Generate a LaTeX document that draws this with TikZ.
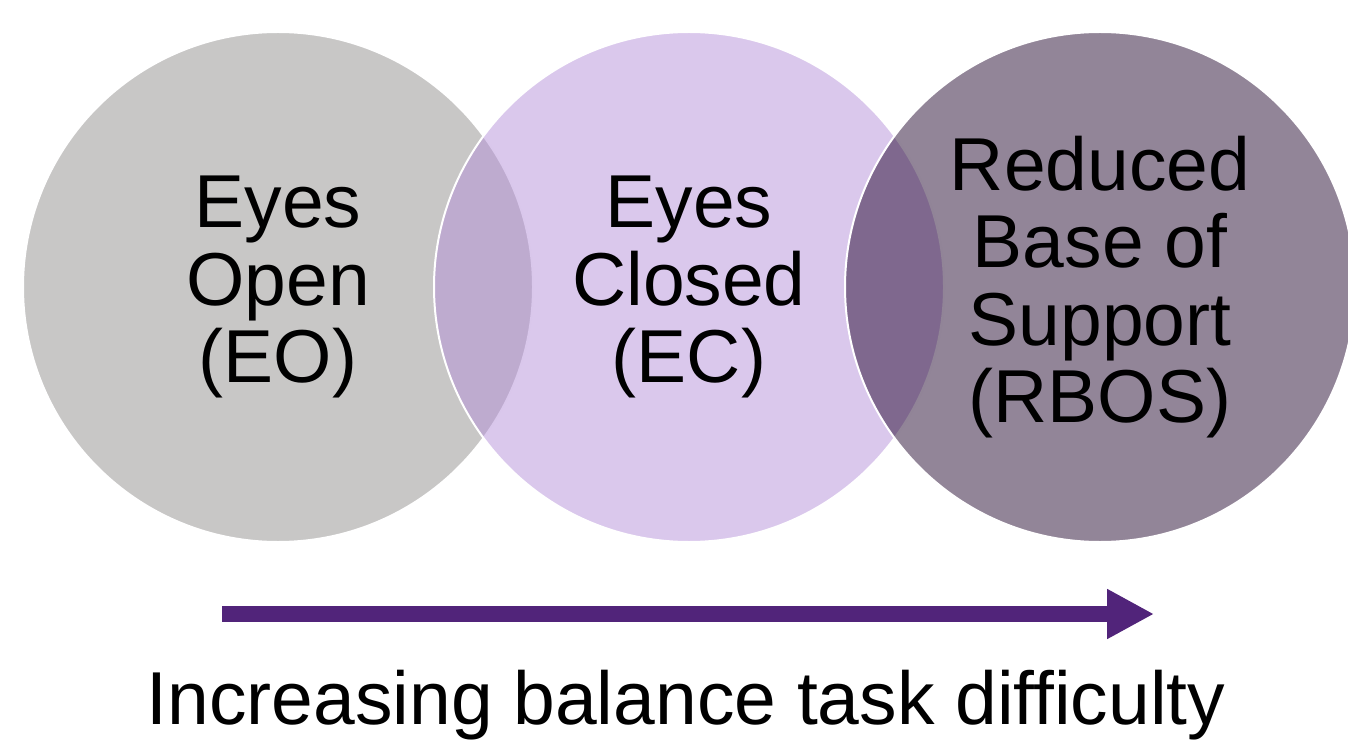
\documentclass[tikz,border=0pt]{standalone}
\usepackage{fontspec}
\setmainfont{Liberation Sans}
\usetikzlibrary{arrows.meta}
\definecolor{eogray}{HTML}{C8C7C6}
\definecolor{eclilac}{HTML}{B591D9}
\definecolor{rbosplum}{HTML}{250B31}
\definecolor{arrowpurple}{HTML}{51247A}

\begin{document}
\begin{tikzpicture}[
  x=0.5pt,
  y=0.5pt,
  every node/.style={font=\fontsize{37.5}{38.75}\selectfont, black},
  condition/.style={circle, minimum size=255pt, inner sep=0pt, align=center,
    draw=white, line width=1pt},
  difficulty/.style={arrowpurple, line width=8pt,
    -{Triangle[length=23.5pt, width=23.5pt]}}
]
  \useasboundingbox (0,0) rectangle (1348,740);

  % ---- the three balance conditions ------------------------------------
  \node[condition, fill=eogray] (eo) at (278,453) {Eyes\\Open\\(EO)};
  \node[condition, fill=eclilac, fill opacity=0.5, text opacity=1] (ec)
    at (689,453) {Eyes\\Closed\\(EC)};
  \node[condition, fill=rbosplum, fill opacity=0.5, text opacity=1] (rbos)
    at (1100,453) {Reduced\\Base of\\Support\\(RBOS)};

  % ---- difficulty arrow -------------------------------------------------
  \coordinate (start) at (222,126);
  \coordinate (tip) at (1154,126);
  \draw[difficulty] (start) -- (tip);
  \node[anchor=base] (caption) at (686,16) {Increasing balance task difficulty};
\end{tikzpicture}
\end{document}
